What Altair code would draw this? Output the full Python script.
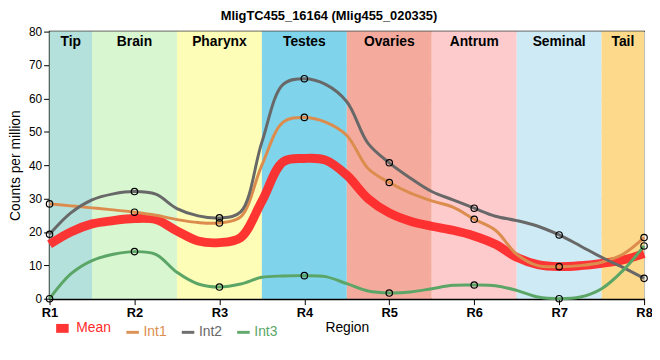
import altair as alt
import pandas as pd

# ---- data ----
positions = [1.00, 1.25, 1.50, 1.75, 2.00, 2.25, 2.50, 2.75, 3.00, 3.25, 3.50, 3.75,
             4.00, 4.25, 4.50, 4.75, 5.00, 5.25, 5.50, 5.75, 6.00, 6.25, 6.50, 6.75,
             7.00, 7.25, 7.50, 7.75, 8.00]
mean_vals = [16.3, 20.0, 22.4, 23.4, 24.0, 23.7, 20.3, 17.3, 16.8, 18.3, 29.2, 41.0,
             42.0, 41.5, 37.0, 30.0, 25.7, 23.2, 21.7, 20.5, 18.8, 16.3, 12.4, 10.2,
             9.6, 9.9, 10.6, 11.6, 13.5]
int1_vals = [28.4, 27.8, 27.2, 26.6, 25.9, 25.0, 23.7, 22.8, 22.7, 24.5, 40.0, 52.9,
             54.3, 52.9, 48.9, 39.0, 34.8, 31.6, 29.3, 27.4, 23.8, 20.5, 13.3, 9.9,
             9.6, 9.9, 10.9, 13.3, 18.3]
int2_vals = [19.3, 25.7, 29.6, 31.4, 32.1, 31.3, 27.0, 24.8, 24.2, 26.0, 46.9, 64.2,
             65.9, 64.2, 59.0, 46.5, 40.7, 36.1, 32.1, 29.6, 27.1, 24.7, 23.4, 21.7,
             19.1, 15.8, 12.4, 9.4, 6.1]
int3_vals = [0.0, 7.4, 11.4, 13.3, 14.1, 13.3, 7.9, 4.4, 3.5, 4.4, 6.4, 6.8,
             6.9, 6.6, 4.5, 2.3, 1.7, 2.0, 3.0, 4.0, 4.1, 3.9, 2.5, 0.5,
             0.0, 0.5, 3.0, 8.4, 15.8]

series_names = ["Mean", "Int1", "Int2", "Int3"]
series_colors = ["#ff2a2a", "#dc8d4e", "#686868", "#5ba666"]
series_widths = [9, 3, 3, 3]

band_names = ["Tip", "Brain", "Pharynx", "Testes", "Ovaries", "Antrum", "Seminal", "Tail"]
band_start = [1.0, 1.5, 2.5, 3.5, 4.5, 5.5, 6.5, 7.5]
band_end = [1.5, 2.5, 3.5, 4.5, 5.5, 6.5, 7.5, 8.0]
band_colors = ["#b4e1dc", "#d8f6d0", "#fdfdb7", "#7fd3ea", "#f4ab9d", "#fdcbcc", "#ceeaf4", "#fdd98b"]

tick_values = [1, 2, 3, 4, 5, 6, 7, 8]
tick_labels = ["R1", "R2", "R3", "R4", "R5", "R6", "R7", "R8"]
y_ticks = [0, 10, 20, 30, 40, 50, 60, 70, 80]

title_text = "MligTC455_16164 (Mlig455_020335)"

# ---- tables ----
rows = []
for name, vals in zip(series_names, [mean_vals, int1_vals, int2_vals, int3_vals]):
    for p, v in zip(positions, vals):
        rows.append({"pos": p, "value": v, "series": name, "marker": float(p).is_integer()})
line_df = pd.DataFrame(rows)

band_df = pd.DataFrame({
    "name": band_names,
    "start": band_start,
    "end": band_end,
    "mid": [(a + b) / 2 for a, b in zip(band_start, band_end)],
    "color": band_colors,
})

label_lookup = "[" + ",".join("'%s'" % t for t in tick_labels) + "][datum.value - 1]"
color_expr = " : ".join(
    "datum.value == '%s' ? '%s'" % (n, c) for n, c in zip(series_names[:-1], series_colors[:-1])
) + " : '%s'" % series_colors[-1]

x_scale = alt.Scale(domain=[1, 8], nice=False, zero=False)
y_scale = alt.Scale(domain=[0, 80], nice=False)

x_axis = alt.Axis(values=tick_values, labelExpr=label_lookup, title="Region",
                  labelFontWeight="bold", labelFontSize=13, labelFlush=False,
                  titleFontSize=14, titleFontWeight="normal", titlePadding=1,
                  grid=True)
y_axis = alt.Axis(values=y_ticks, title="Counts per million", labelOverlap=False,
                  labelFontSize=12, titleFontSize=14, titleFontWeight="normal",
                  titlePadding=6, grid=True)

stroke_scale = alt.Scale(domain=series_names, range=series_colors)
width_scale = alt.Scale(type="ordinal", domain=series_names, range=series_widths)
legend = alt.Legend(title=None, orient="none", legendX=2, legendY=289,
                    direction="horizontal", symbolType="stroke", symbolSize=160,
                    labelFontSize=14, labelColor=alt.ExprRef(color_expr),
                    columnPadding=8, labelOffset=3)

bands = alt.Chart(band_df).mark_rect().encode(
    x=alt.X("start:Q", scale=x_scale, axis=x_axis),
    x2="end:Q",
    y=alt.datum(0, scale=y_scale, axis=y_axis),
    y2=alt.datum(80),
    fill=alt.Fill("color:N", scale=None),
)

band_text = alt.Chart(band_df).mark_text(
    fontWeight="bold", fontSize=14, baseline="middle", color="black"
).encode(
    x=alt.X("mid:Q", scale=x_scale, axis=x_axis),
    y=alt.value(11),
    text="name:N",
)

enc = dict(
    x=alt.X("pos:Q", scale=x_scale, axis=x_axis),
    y=alt.Y("value:Q", scale=y_scale, axis=y_axis),
    stroke=alt.Stroke("series:N", scale=stroke_scale, legend=legend),
    strokeWidth=alt.StrokeWidth("series:N", scale=width_scale, legend=legend),
)

mean_line = alt.Chart(line_df).transform_filter(
    alt.datum.series == "Mean"
).mark_line(interpolate="catmull-rom", opacity=0.95).encode(**enc)

int_lines = alt.Chart(line_df).transform_filter(
    alt.datum.series != "Mean"
).mark_line(interpolate="catmull-rom").encode(**enc)

markers = alt.Chart(line_df).transform_filter(
    (alt.datum.series != "Mean") & alt.datum.marker
).mark_point(filled=False, size=42, color="black", strokeWidth=1.2, opacity=1).encode(
    x=alt.X("pos:Q", scale=x_scale, axis=x_axis),
    y=alt.Y("value:Q", scale=y_scale, axis=y_axis),
)

chart = alt.layer(bands, band_text, mean_line, int_lines, markers).properties(
    width=601, height=270,
    title=alt.Title(title_text, fontSize=13, fontWeight="bold", dx=-18, offset=3),
    padding={"left": 42, "top": 22, "right": 8, "bottom": 50},
    autosize=alt.AutoSizeParams(type="none"),
).configure_view(
    stroke="black", strokeWidth=1.5
).configure_axis(
    gridColor="#cccccc", gridWidth=1, domainColor="black", domainWidth=2,
    tickColor="black", tickSize=6, labelColor="black", titleColor="black",
    labelFont="Liberation Sans", titleFont="Liberation Sans"
).configure_text(font="Liberation Sans").configure_title(font="Liberation Sans", color="black"
).configure_legend(labelFont="Liberation Sans")

chart.save("out.html", embed_options={"renderer": "svg", "actions": False})
